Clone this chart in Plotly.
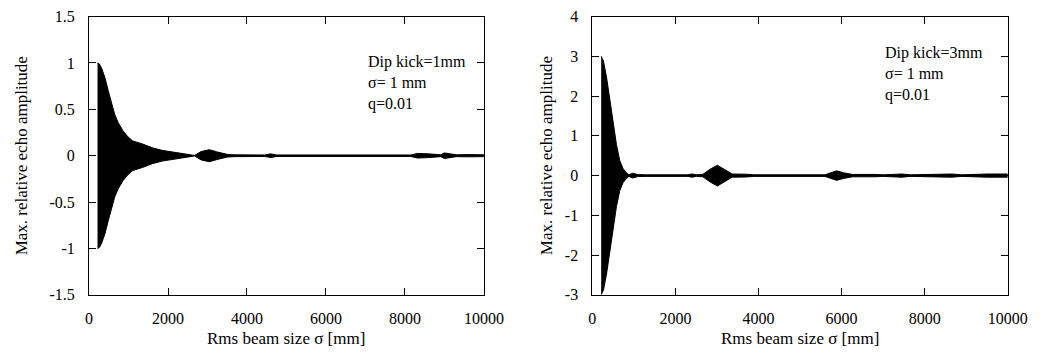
import plotly.graph_objects as go

# ---- data ----
# envelope of the dense oscillation, left panel (Dip kick = 1 mm)
x_left = [215, 260, 322, 404, 487, 569, 651, 734, 858, 983, 1106, 1353, 1601, 1848,
          2178, 2508, 2673, 2838, 3045, 3250, 3498, 3663, 4450, 4600, 4750, 8150,
          8320, 8600, 8911, 9000, 9300, 9600, 10000]
amp_left = [1.0, 0.99, 0.94, 0.84, 0.70, 0.565, 0.445, 0.36, 0.27, 0.205, 0.16, 0.127,
            0.086, 0.058, 0.034, 0.017, 0.003, 0.045, 0.065, 0.04, 0.015, 0.01, 0.008,
            0.02, 0.008, 0.008, 0.025, 0.02, 0.01, 0.03, 0.01, 0.012, 0.01]

# envelope, right panel (Dip kick = 3 mm)
x_right = [212, 267, 345, 424, 502, 580, 659, 737, 816, 878, 973, 1090, 1300, 2300,
           2400, 2500, 2659, 2850, 3012, 3200, 3365, 3700, 3900, 5600, 5700, 5880,
           6050, 6266, 6800, 7000, 7450, 7650, 8650, 8900, 9500, 10000]
amp_right = [3.0, 2.88, 2.45, 1.89, 1.33, 0.78, 0.38, 0.18, 0.08, 0.02, 0.06, 0.025,
             0.02, 0.02, 0.04, 0.02, 0.03, 0.17, 0.26, 0.14, 0.04, 0.035, 0.02, 0.02,
             0.05, 0.12, 0.07, 0.03, 0.03, 0.02, 0.04, 0.02, 0.04, 0.02, 0.04, 0.04]

x_ticks = [0, 2000, 4000, 6000, 8000, 10000]
x_ticktext = ["0", "2000", "4000", "6000", "8000", "10000"]
y_left_ticks = [-1.5, -1, -0.5, 0, 0.5, 1, 1.5]
y_left_ticktext = ["-1.5", "-1", "-0.5", "0", "0.5", "1", "1.5"]
y_right_ticks = [-3, -2, -1, 0, 1, 2, 3, 4]
y_right_ticktext = ["-3", "-2", "-1", "0", "1", "2", "3", "4"]

left_lines = ["Dip kick=1mm", "σ= 1 mm", "q=0.01"]
right_lines = ["Dip kick=3mm", "σ= 1 mm", "q=0.01"]

x_title = "Rms beam size σ [mm]"
y_title = "Max. relative echo amplitude"

FONT = "Liberation Serif, Times New Roman, Times, serif"

fig = go.Figure()


def add_env(xs, amps, xa, ya):
    fig.add_trace(go.Scatter(x=xs, y=amps, mode="lines", xaxis=xa, yaxis=ya,
                             line=dict(color="black", width=1), showlegend=False,
                             hoverinfo="skip"))
    fig.add_trace(go.Scatter(x=xs, y=[-a for a in amps], mode="lines", xaxis=xa, yaxis=ya,
                             line=dict(color="black", width=1), fill="tonexty",
                             fillcolor="black", showlegend=False, hoverinfo="skip"))


add_env(x_left, amp_left, "x", "y")
add_env(x_right, amp_right, "x2", "y2")

W, H = 1060, 362
ax_common = dict(showgrid=False, zeroline=False, showline=True, linecolor="black",
                 linewidth=1, mirror="allticks", ticks="inside", ticklen=7,
                 tickcolor="black",
                 tickfont=dict(family=FONT, size=16, color="black"))
xa_extra = dict(ticklabelstandoff=9)
ya_extra = dict(ticklabelstandoff=10)

y_dom = [(H - 301) / H, (H - 9) / H]
fig.update_layout(
    width=W, height=H, margin=dict(l=0, r=0, t=0, b=0),
    paper_bgcolor="white", plot_bgcolor="white",
    font=dict(family=FONT, color="black"),
    xaxis=dict(domain=[87 / W, 491 / W], range=[0, 10000], tickvals=x_ticks,
               ticktext=x_ticktext, anchor="y", **ax_common, **xa_extra),
    yaxis=dict(domain=y_dom, range=[-1.5, 1.5], tickvals=y_left_ticks,
               ticktext=y_left_ticktext, anchor="x", **ax_common, **ya_extra),
    xaxis2=dict(domain=[602 / W, 1027 / W], range=[0, 10000], tickvals=x_ticks,
                ticktext=x_ticktext, anchor="y2", **ax_common, **xa_extra),
    yaxis2=dict(domain=y_dom, range=[-3, 4], tickvals=y_right_ticks,
                ticktext=y_right_ticktext, anchor="x2", **ax_common, **ya_extra),
)

ann = []
tf = dict(family=FONT, size=17, color="black")
af = dict(family=FONT, size=16, color="black")
# text blocks inside the panels (centre of each block in data units)
ann.append(dict(x=7005, y=(155 - 78.7) / 97.33, xref="x", yref="y",
                text="<br>".join(left_lines), showarrow=False, align="left",
                xanchor="left", yanchor="middle", font=af))
ann.append(dict(x=6990, y=(176 - 69) / 41.7, xref="x2", yref="y2",
                text="<br>".join(right_lines), showarrow=False, align="left",
                xanchor="left", yanchor="middle", font=af))
# axis titles
for xc in [289, 814.5]:
    ann.append(dict(x=xc / W, y=(H - 347) / H, xref="paper", yref="paper", text=x_title,
                    showarrow=False, xanchor="center", yanchor="middle", font=tf))
for xc in [18, 555]:
    ann.append(dict(x=xc / W, y=(H - 155) / H, xref="paper", yref="paper", text=y_title,
                    showarrow=False, xanchor="center", yanchor="middle", textangle=-90,
                    font=tf))
fig.update_layout(annotations=ann)

fig.write_html("out.html")
